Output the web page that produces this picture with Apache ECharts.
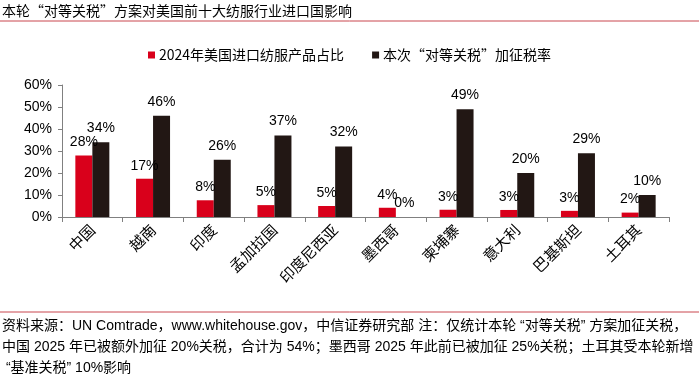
<!DOCTYPE html>
<html>
<head>
<meta charset="utf-8">
<script src="https://cdn.jsdelivr.net/npm/echarts@6/dist/echarts.min.js"></script>
<style>
  html, body { margin: 0; padding: 0; background: #fff; }
  #chart { width: 699px; height: 377px; }
</style>
</head>
<body>
<div id="chart"></div>
<script>
var categories = ['中国', '越南', '印度', '孟加拉国', '印度尼西亚', '墨西哥', '柬埔寨', '意大利', '巴基斯坦', '土耳其'];
var shareValues = [27.9, 17.4, 7.6, 5.4, 5.0, 4.2, 3.3, 3.2, 2.8, 2.0];
var tariffValues = [34, 46, 26, 37, 32, 0, 49, 20, 29, 10];
var shareName = '2024年美国进口纺服产品占比';
var tariffName = '本次“对等关税”加征税率';
var yTicks = [0, 10, 20, 30, 40, 50, 60];
var footLines = [
    '资料来源：UN Comtrade，www.whitehouse.gov，中信证券研究部 注：仅统计本轮 “对等关税” 方案加征关税，',
    '中国 2025 年已被额外加征 20%关税，合计为 54%；墨西哥 2025 年此前已被加征 25%关税；土耳其受本轮新增',
    ' “基准关税” 10%影响'
];

var font = 'Liberation Sans, Arial, Noto Sans CJK SC, sans-serif';
var cjk = 'Noto Sans CJK SC, sans-serif';
var footFont = '14px "Liberation Sans", "Noto Sans CJK SC", sans-serif';

// squeeze the footer horizontally so the longest line spans the page, like the narrow face in the source
var ctx = document.createElement('canvas').getContext('2d');
ctx.font = footFont;
var widest = Math.max.apply(null, footLines.map(function (l) { return ctx.measureText(l).width; }));
var footScale = Math.min(1, 692 / widest);

var chart = echarts.init(document.getElementById('chart'));
var option = {
    animation: false,
    textStyle: { fontFamily: font },
    legend: {
        top: 43,
        left: 143,
        itemWidth: 7,
        itemHeight: 7,
        itemGap: 28,
        icon: 'rect',
        textStyle: { fontSize: 14, color: '#000', fontFamily: cjk, padding: [0, 0, 0, -1] },
        data: [shareName, tariffName]
    },
    grid: { left: 62, right: 30, top: 85, bottom: 160, containLabel: false },
    xAxis: {
        type: 'category',
        data: categories,
        axisLine: { lineStyle: { color: '#808080' } },
        axisTick: { show: true, length: 5, lineStyle: { color: '#808080' } },
        axisLabel: { rotate: 45, fontSize: 15, color: '#000', margin: 10, interval: 0, fontFamily: cjk }
    },
    yAxis: {
        type: 'value',
        min: yTicks[0],
        max: yTicks[yTicks.length - 1],
        interval: 10,
        splitLine: { show: false },
        axisLine: { show: true, lineStyle: { color: '#808080' } },
        axisTick: { show: true, length: 4, lineStyle: { color: '#808080' } },
        axisLabel: { fontSize: 14, color: '#000', formatter: '{value}%', margin: 10 }
    },
    series: [
        {
            name: shareName,
            type: 'bar',
            data: shareValues,
            barWidth: 17,
            barGap: '0%',
            itemStyle: { color: '#d9001b' },
            label: {
                show: true, position: 'top', distance: 6, fontSize: 14, color: '#000',
                formatter: function (p) { return Math.round(p.value) + '%'; }
            }
        },
        {
            name: tariffName,
            type: 'bar',
            data: tariffValues,
            barWidth: 17,
            itemStyle: { color: '#221714' },
            label: {
                show: true, position: 'top', distance: 7, fontSize: 14, color: '#000',
                formatter: function (p) { return Math.round(p.value) + '%'; }
            }
        }
    ],
    graphic: [
        {
            type: 'text', left: 2, top: 4,
            style: { text: '本轮“对等关税”方案对美国前十大纺服行业进口国影响', font: '14px ' + cjk, fill: '#000' }
        },
        {
            type: 'line', shape: { x1: 0, y1: 21, x2: 699, y2: 21 },
            style: { stroke: '#c9474f', lineWidth: 1 }
        },
        {
            type: 'line', shape: { x1: 0, y1: 312, x2: 699, y2: 312 },
            style: { stroke: '#c9474f', lineWidth: 1 }
        },
        {
            type: 'text', x: 2, y: 316, scaleX: footScale,
            style: {
                text: footLines.join('\n'),
                font: footFont, fill: '#000', lineHeight: 21, verticalAlign: 'top'
            }
        }
    ]
};
chart.setOption(option);
</script>
</body>
</html>
